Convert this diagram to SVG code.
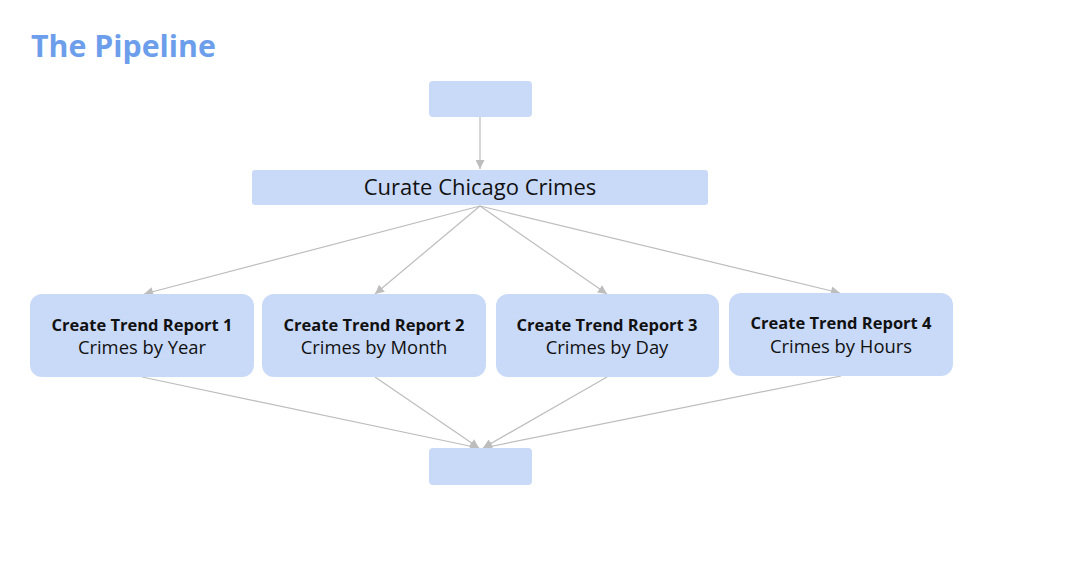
<svg xmlns="http://www.w3.org/2000/svg" width="1077" height="566" viewBox="0 0 1077 566">
<style>
.box{fill:#c9daf8;}
.edge{stroke:#bdbdbd;stroke-width:1.2;fill:none;marker-end:url(#ah);}
.t{font-family:"Open Sans",Roboto,sans-serif;fill:#111;text-anchor:middle;}
.b{font-weight:bold;font-size:16.5px;}
.n{font-size:18.4px;}
</style>
<defs>
<marker id="ah" viewBox="0 0 10 10" refX="10" refY="5" markerWidth="11" markerHeight="9" markerUnits="userSpaceOnUse" orient="auto">
<path d="M0,0L10,5L0,10z" fill="#bdbdbd"/>
</marker>
</defs>
<rect width="1077" height="566" fill="#fff"/>
<text x="31" y="57" font-family="'Open Sans',Roboto,sans-serif" font-weight="bold" font-size="30.3" fill="#6d9eeb">The Pipeline</text>
<g id="connectors">
<path class="edge" d="M480,117L480,169"/>
<path class="edge" d="M480,206L144,294"/>
<path class="edge" d="M480,206L375,294"/>
<path class="edge" d="M480,206L607,294"/>
<path class="edge" d="M480,206L840,293"/>
<path class="edge" d="M142,377L479,448"/>
<path class="edge" d="M375,377L479,448"/>
<path class="edge" d="M607,377L483,448"/>
<path class="edge" d="M841,376L483,448"/>
</g>
<g id="source"><rect class="box" x="429" y="81" width="103" height="36" rx="4"/></g>
<g id="curate"><rect class="box" x="252" y="170" width="456" height="35" rx="3"/>
<text class="t" x="480" y="195" font-size="22">Curate Chicago Crimes</text></g>
<g id="report1"><rect class="box" x="30" y="294" width="224" height="83" rx="12"/>
<text class="t b" x="142" y="331">Create Trend Report 1</text>
<text class="t n" x="142" y="354">Crimes by Year</text></g>
<g id="report2"><rect class="box" x="262" y="294" width="224" height="83" rx="12"/>
<text class="t b" x="374" y="331">Create Trend Report 2</text>
<text class="t n" x="374" y="354">Crimes by Month</text></g>
<g id="report3"><rect class="box" x="496" y="294" width="223" height="83" rx="12"/>
<text class="t b" x="607" y="331">Create Trend Report 3</text>
<text class="t n" x="607" y="354">Crimes by Day</text></g>
<g id="report4"><rect class="box" x="729" y="293" width="224" height="83" rx="12"/>
<text class="t b" x="841" y="329">Create Trend Report 4</text>
<text class="t n" x="841" y="352.5">Crimes by Hours</text></g>
<g id="sink"><rect class="box" x="429" y="448" width="103" height="37" rx="4"/></g>
</svg>
